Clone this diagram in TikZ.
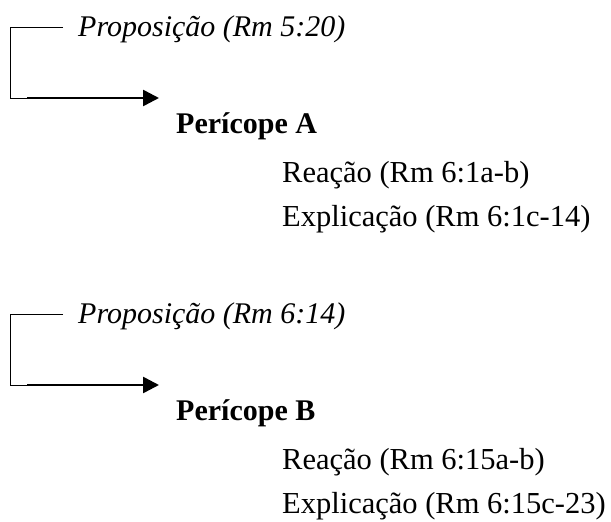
\documentclass[tikz,border=0pt]{standalone}
\usepackage{fontspec}
\setmainfont{Liberation Serif}
\usetikzlibrary{arrows.meta}
\begin{document}
\begin{tikzpicture}[x=1pt,y=-1pt,
  txt/.style={anchor=base west,inner sep=0pt,font=\fontsize{30.5}{36}\selectfont},
  proptxt/.style={txt,font=\fontsize{30}{36}\selectfont\itshape},
  pertxt/.style={txt,font=\fontsize{30}{36}\selectfont\bfseries},
  thinline/.style={line width=1pt},
  thickarrow/.style={line width=2.6pt,-{Triangle[length=16pt,width=16pt]}}]
\useasboundingbox (0,0) rectangle (611,522);
% group 1
\node[proptxt] (prop1) at (78,36) {Proposição (Rm 5:20)};
\node[pertxt] (per1) at (176,133) {Perícope A};
\node[txt] (rea1) at (282,182) {Reação (Rm 6:1a-b)};
\node[txt] (exp1) at (282,226) {Explicação (Rm 6:1c-14)};
\coordinate (t1) at (63,27);
\coordinate (c1) at (10,27);
\coordinate (b1) at (10,98);
\coordinate (m1) at (27,98);
\coordinate (a1) at (159,98);
\draw[thinline] (t1) -- (c1) -- (b1) -- (m1);
\draw[thickarrow] (m1) -- (a1);
% group 2
\node[proptxt] (prop2) at (78,323) {Proposição (Rm 6:14)};
\node[pertxt] (per2) at (176,420) {Perícope B};
\node[txt] (rea2) at (282,469) {Reação (Rm 6:15a-b)};
\node[txt] (exp2) at (282,513) {Explicação (Rm 6:15c-23)};
\coordinate (t2) at (63,314);
\coordinate (c2) at (10,314);
\coordinate (b2) at (10,385);
\coordinate (m2) at (27,385);
\coordinate (a2) at (159,385);
\draw[thinline] (t2) -- (c2) -- (b2) -- (m2);
\draw[thickarrow] (m2) -- (a2);
\end{tikzpicture}
\end{document}
